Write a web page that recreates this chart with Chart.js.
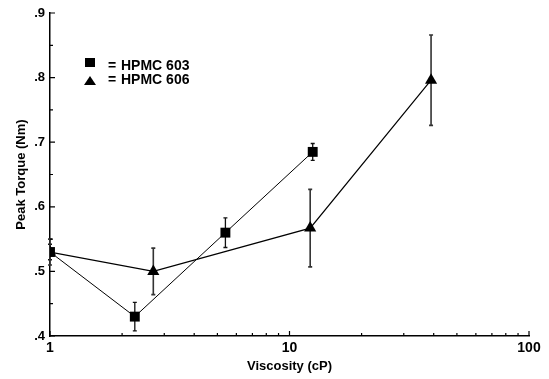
<!DOCTYPE html>
<html>
<head>
<meta charset="utf-8">
<script src="https://cdn.jsdelivr.net/npm/chart.js@4/dist/chart.umd.min.js"></script>
<style>
  html, body { margin: 0; padding: 0; background: #fff; }
  canvas { display: block; }
</style>
</head>
<body>
<canvas id="torqueChart" width="549" height="379"></canvas>
<script>
// values
var visc603 = [1, 2.26, 5.4, 12.5];
var torque603 = [0.53, 0.43, 0.56, 0.685];
var err603 = [0.012, 0.022, 0.023, 0.013];

var visc606 = [1, 2.7, 12.2, 39];
var torque606 = [0.53, 0.50, 0.567, 0.796];
var err606 = [0.02, 0.036, 0.06, 0.07];

var xTicks = [1, 10, 100];
var xTickLabels = ['1', '10', '100'];
var xMinorTicks = [2, 3, 4, 5, 6, 7, 8, 9, 20, 30, 40, 50, 60, 70, 80, 90];
var yTicks = [0.4, 0.5, 0.6, 0.7, 0.8, 0.9];
var yTickLabels = ['.4', '.5', '.6', '.7', '.8', '.9'];
var yMinorTicks = [0.45, 0.55, 0.65, 0.75, 0.85];

var FAMILY = 'Arial, "Liberation Sans", Helvetica, sans-serif';

function points(xs, ys) {
  return xs.map(function (x, i) { return { x: x, y: ys[i] }; });
}

var errorBars = {
  id: 'errorBars',
  beforeDatasetsDraw: function (chart) {
    var ctx = chart.ctx, xs = chart.scales.x, ys = chart.scales.y;
    chart.data.datasets.forEach(function (ds) {
      ctx.save();
      ctx.strokeStyle = ds.errColor;
      ctx.lineWidth = ds.errWidth;
      ctx.beginPath();
      ds.data.forEach(function (p, i) {
        var x = xs.getPixelForValue(p.x);
        var top = ys.getPixelForValue(p.y + ds.errors[i]);
        var bot = ys.getPixelForValue(p.y - ds.errors[i]);
        ctx.moveTo(x, top); ctx.lineTo(x, bot);
        ctx.moveTo(x - 2, top); ctx.lineTo(x + 2, top);
        ctx.moveTo(x - 2, bot); ctx.lineTo(x + 2, bot);
      });
      ctx.stroke();
      ctx.restore();
    });
  }
};

// inward tick marks like the original plot
var axisTicks = {
  id: 'axisTicks',
  afterDraw: function (chart) {
    var ctx = chart.ctx, a = chart.chartArea, xs = chart.scales.x, ys = chart.scales.y;
    ctx.save();
    ctx.strokeStyle = '#000';
    ctx.lineWidth = 1.2;
    ctx.beginPath();
    xTicks.forEach(function (v) {
      var x = xs.getPixelForValue(v);
      ctx.moveTo(x, a.bottom); ctx.lineTo(x, a.bottom - 5);
    });
    xMinorTicks.forEach(function (v) {
      var x = xs.getPixelForValue(v);
      ctx.moveTo(x, a.bottom); ctx.lineTo(x, a.bottom - 3);
    });
    yTicks.forEach(function (v) {
      var y = ys.getPixelForValue(v);
      ctx.moveTo(a.left, y); ctx.lineTo(a.left + 5, y);
    });
    yMinorTicks.forEach(function (v) {
      var y = ys.getPixelForValue(v);
      ctx.moveTo(a.left, y); ctx.lineTo(a.left + 3, y);
    });
    ctx.stroke();
    ctx.restore();
  }
};

var insideLegend = {
  id: 'insideLegend',
  afterDraw: function (chart) {
    var ctx = chart.ctx, a = chart.chartArea;
    var mx = a.left + 40, tx = a.left + 58;
    ctx.save();
    ctx.fillStyle = '#000';
    ctx.font = 'bold 14px ' + FAMILY;
    ctx.textBaseline = 'middle';
    // square
    var y1 = a.top + 50;
    ctx.fillRect(mx - 5, y1 - 5, 10, 9);
    ctx.fillText('=', tx, y1 + 3);
    ctx.fillText(chart.data.datasets[0].label, tx + 13, y1 + 3);
    // triangle
    var y2 = a.top + 68;
    ctx.beginPath();
    ctx.moveTo(mx, y2 - 5); ctx.lineTo(mx + 6, y2 + 4); ctx.lineTo(mx - 6, y2 + 4);
    ctx.closePath();
    ctx.fill();
    ctx.fillText('=', tx, y2 - 1);
    ctx.fillText(chart.data.datasets[1].label, tx + 13, y2 - 1);
    ctx.restore();
  }
};

Chart.defaults.font.family = FAMILY;
Chart.defaults.font.weight = 'bold';
Chart.defaults.color = '#000';

var ctx = document.getElementById('torqueChart').getContext('2d');
new Chart(ctx, {
  type: 'line',
  data: {
    datasets: [
      {
        label: 'HPMC 603', data: points(visc603, torque603), errors: err603,
        errColor: '#111', errWidth: 1.3,
        borderColor: '#000', borderWidth: 1, backgroundColor: '#000',
        pointStyle: 'rect', pointRadius: 7, pointBorderWidth: 0, tension: 0
      },
      {
        label: 'HPMC 606', data: points(visc606, torque606), errors: err606,
        errColor: '#333', errWidth: 1.6,
        borderColor: '#000', borderWidth: 1.2, backgroundColor: '#000',
        pointStyle: 'triangle', pointRadius: 7, pointBorderWidth: 0, tension: 0
      }
    ]
  },
  options: {
    responsive: false,
    animation: false,
    layout: { padding: { top: 13, right: 20, left: 0, bottom: 0 } },
    plugins: { legend: { display: false }, tooltip: { enabled: false } },
    scales: {
      x: {
        type: 'logarithmic', min: 1, max: 100,
        afterFit: function (s) { s.height = 43; },
        afterBuildTicks: function (s) { s.ticks = xTicks.map(function (v) { return { value: v }; }); },
        ticks: {
          autoSkip: false, padding: 4, maxRotation: 0,
          font: { family: FAMILY, size: 14, weight: 'bold' },
          callback: function (v, i) { return xTickLabels[i]; }
        },
        grid: { display: false, drawTicks: false },
        border: { color: '#000', width: 1.5 },
        title: { display: true, text: 'Viscosity (cP)', font: { family: FAMILY, size: 13, weight: 'bold' }, padding: { top: 0, bottom: 5 } }
      },
      y: {
        type: 'linear', min: 0.4, max: 0.9,
        afterFit: function (s) { s.width = 50; },
        afterBuildTicks: function (s) { s.ticks = yTicks.map(function (v) { return { value: v }; }); },
        ticks: {
          autoSkip: false, padding: 5,
          font: { family: FAMILY, size: 13, weight: 'bold' },
          callback: function (v, i) { return yTickLabels[i]; }
        },
        grid: { display: false, drawTicks: false },
        border: { color: '#000', width: 1.5 },
        title: { display: true, text: 'Peak Torque (Nm)', font: { family: FAMILY, size: 13, weight: 'bold' }, padding: { top: 14, bottom: 0 } }
      }
    }
  },
  plugins: [errorBars, axisTicks, insideLegend]
});
</script>
</body>
</html>
